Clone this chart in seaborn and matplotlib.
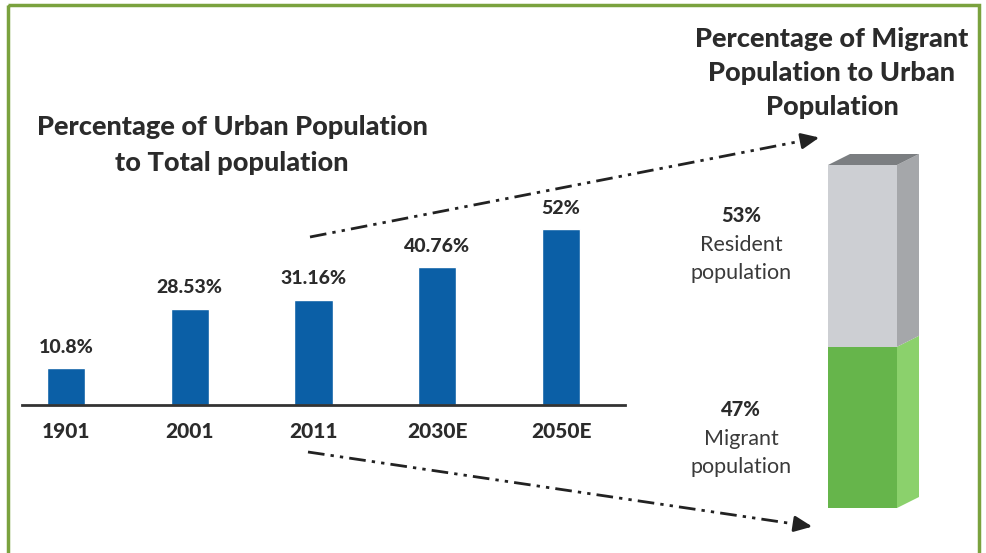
import matplotlib
matplotlib.use("Agg")
import matplotlib.pyplot as plt
from matplotlib.patches import Polygon, Rectangle
import seaborn as sns
import pandas as pd

# Urban population share by census / projection year
years = ["1901", "2001", "2011", "2030E", "2050E"]
urban_share = [10.8, 28.53, 31.16, 40.76, 52.0]

# Composition of the urban population
urban_parts = ["Migrant\npopulation", "Resident\npopulation"]
urban_part_share = [47, 53]

left_title = "Percentage of Urban Population\nto Total population"
right_title = "Percentage of Migrant\nPopulation to Urban\nPopulation"

W, H = 987, 553
TEXT = "#2b2b2b"
BLUE = "#0b5fa6"
FRONT = ["#66b54b", "#cdcfd3"]
SIDE = ["#8bd16c", "#a5a7aa"]
TOP = "#7b7e81"
FRAME = "#7aa23e"

sns.set_theme(style="white")
plt.rcParams["font.family"] = ["Lato", "DejaVu Sans"]

fig = plt.figure(figsize=(W / 100, H / 100), dpi=100)
fig.patch.set_facecolor("white")


def px_axes(left, top, right, bottom):
    return fig.add_axes([left / W, 1 - bottom / H, (right - left) / W, (bottom - top) / H])


# ---- decorative layer in pixel coordinates ----
deco = px_axes(0, 0, W, H)
deco.set_xlim(0, W)
deco.set_ylim(H, 0)
deco.axis("off")
deco.set_zorder(0)
deco.add_patch(Rectangle((8, 5), 971, 560, fill=False, edgecolor=FRAME, lw=2.5, clip_on=False))

deco.text(232, 145, left_title, ha="center", va="center", fontsize=19.5, fontweight="black",
          color=TEXT, linespacing=1.6)
deco.text(832, 73, right_title, ha="center", va="center", fontsize=19.5, fontweight="black",
          color=TEXT, linespacing=1.5)

dash_dot_dot = (0, (6, 2.2, 1.2, 2.2, 1.2, 2.2))
for (x0, y0), (x1, y1) in [((310, 237), (822, 137)), ((308, 452), (815, 527))]:
    deco.plot([x0, x1 - 6 * (x1 - x0) / abs(x1 - x0)], [y0, y1 - 6 * (y1 - y0) / abs(x1 - x0)],
              color="#222222", lw=2, linestyle=dash_dot_dot)
    deco.annotate("", xy=(x1, y1), xytext=(x1 - 14, y1 - 14 * (y1 - y0) / (x1 - x0)),
                  arrowprops=dict(arrowstyle="-|>,head_length=0.9,head_width=0.4",
                                  color="#222222", lw=2))

# ---- bar chart of urban share ----
ax = px_axes(22, 200, 625, 405)
df = pd.DataFrame({"year": years, "share": urban_share})
sns.barplot(data=df, x="year", y="share", color=BLUE, saturation=1, width=0.31, ax=ax)
ax.set_xlim(-0.356, 4.517)
ax.set_ylim(0, 205 / 3.38)
ax.patch.set_alpha(0)
for side in ["top", "right", "left"]:
    ax.spines[side].set_visible(False)
ax.spines["bottom"].set_color("#333333")
ax.spines["bottom"].set_linewidth(2)
ax.set_yticks([])
ax.set_xlabel("")
ax.set_ylabel("")
ax.tick_params(axis="x", length=0, pad=12, labelsize=15, labelcolor=TEXT)
for lab in ax.get_xticklabels():
    lab.set_fontweight("black")
ax.bar_label(ax.containers[0], labels=[f"{v:g}%" for v in urban_share], padding=9,
             fontsize=14, fontweight="black", color=TEXT)

# ---- 3D stacked column of urban composition ----
bx = px_axes(828, 165, 897, 508)
bx.set_xlim(-0.5, 0.5)
bx.set_ylim(0, 100)
bx.axis("off")
dx, dy = 22 / 69, 11 / 343 * 100
bottom = 0
for share, fc, sc in zip(urban_part_share, FRONT, SIDE):
    bx.bar(0, share, bottom=bottom, width=1, color=fc, linewidth=0)
    top = bottom + share
    bx.add_patch(Polygon([(0.5, bottom), (0.5 + dx, bottom + dy), (0.5 + dx, top + dy), (0.5, top)],
                         closed=True, facecolor=sc, edgecolor="none", clip_on=False))
    bottom = top
bx.add_patch(Polygon([(-0.5, 100), (-0.5 + dx, 100 + dy), (0.5 + dx, 100 + dy), (0.5, 100)],
                     closed=True, facecolor=TOP, edgecolor="none", clip_on=False))

# Share labels beside the column
for share, lab, y in zip(urban_part_share, urban_parts, [410, 216]):
    deco.text(741, y, f"{share}%", ha="center", va="center", fontsize=14.5,
              fontweight="black", color=TEXT)
    deco.text(741, y + 43, lab, ha="center", va="center", fontsize=15.5,
              fontweight="normal", color="#3a3a3a", linespacing=1.5)

fig.savefig("out.png", dpi=100, facecolor="white")
